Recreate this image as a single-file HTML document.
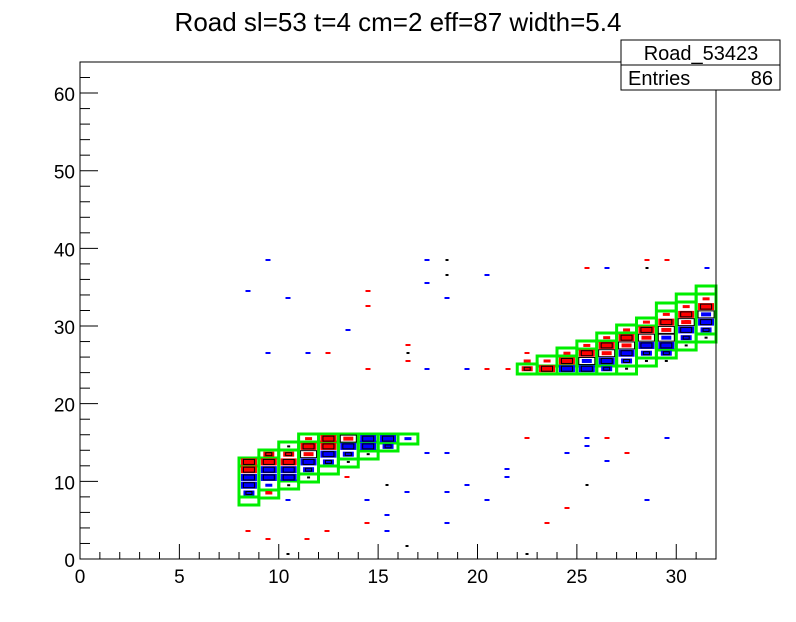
<!DOCTYPE html>
<html><head><meta charset="utf-8"><style>
html,body{margin:0;padding:0;background:#fff;}
svg{display:block;font-family:"Liberation Sans",sans-serif;}
</style></head><body>
<svg id="s" width="796" height="622" xmlns="http://www.w3.org/2000/svg">
<rect width="796" height="622" fill="#fff"/>
<text x="398" y="31" font-size="26" text-anchor="middle">Road sl=53 t=4 cm=2 eff=87 width=5.4</text>
<g id="data"></g>
<rect x="80" y="62" width="636" height="497" fill="none" stroke="#000" stroke-width="1"/>
<g id="ticks" stroke="#000" stroke-width="1"></g>
<g id="labels" font-size="19" text-anchor="middle"></g>
<rect x="621" y="40" width="159" height="50" fill="#fff" stroke="#000"/>
<line x1="621" y1="65" x2="780" y2="65" stroke="#000"/>
<text x="701" y="60" font-size="20" text-anchor="middle">Road_53423</text>
<text x="628" y="85" font-size="20">Entries</text>
<text x="773" y="85" font-size="20" text-anchor="end">86</text>
</svg>
<script>
const NS="http://www.w3.org/2000/svg";
function el(p,t,a){const e=document.createElementNS(NS,t);for(const k in a)e.setAttribute(k,a[k]);p.appendChild(e);return e;}
const X=v=>80+v*19.875, Y=v=>559-v*7.766;
const tk=document.getElementById('ticks'), lb=document.getElementById('labels'), d=document.getElementById('data');
for(let i=0;i<=32;i++){const L=i%5==0?15:7;el(tk,'line',{x1:X(i),x2:X(i),y1:559,y2:559-L});
 if(i%5==0){const t=el(lb,'text',{x:X(i),y:583});t.textContent=i;}}
for(let i=0;i<=64;i+=2){const L=i%10==0?18:10;el(tk,'line',{x1:80,x2:80+L,y1:Y(i),y2:Y(i)});
 if(i%10==0){const t=el(lb,'text',{x:75,y:Y(i)+8,'text-anchor':'end'});t.textContent=i;}}
const G=[[8,458,505],[9,450,498],[10,442,489],[11,434,482],[12,434,474],[13,434,467],[14,434,459],[15,434,451],[16,434,444],
[22,364,374],[23,356,374],[24,348,374],[25,341,374],[26,333,374],[27,325,374],[28,318,366],[29,303,358],[30,294,350],[31,286,342]];
const gg=el(d,'g',{fill:'none',stroke:'#00ee00','stroke-width':3});
G.forEach(g=>{const x=X(g[0]);el(gg,'rect',{x:x,y:g[1],width:19.875,height:g[2]-g[1]});
 const y2=g[2]-8; if(y2>g[1]+3) el(gg,'line',{x1:x,x2:x+19.875,y1:y2,y2:y2});
 const y3=g[1]+8; if(y3<g[2]-10) el(gg,'line',{x1:x,x2:x+19.875,y1:y3,y2:y3});});
const C=[
[8,12,'R'],[8,11,'R'],[8,10,'B'],[8,9,'B'],[8,8,'b'],
[9,13,'r'],[9,12,'R'],[9,11,'B'],[9,10,'B'],[9,9,'bs'],[9,8,'rs'],
[10,14,'k'],[10,13,'r'],[10,12,'R'],[10,11,'B'],[10,10,'B'],[10,9,'k'],
[11,15,'rs'],[11,14,'R'],[11,13,'WR'],[11,12,'B'],[11,11,'b'],[11,10,'k'],
[12,15,'R'],[12,14,'R'],[12,13,'B'],[12,12,'b'],
[13,15,'WR'],[13,14,'B'],[13,13,'b'],[13,12,'k'],
[14,15,'B'],[14,14,'B'],[14,13,'k'],
[15,15,'B'],[15,14,'b'],[16,15,'bs'],
[22,24,'r'],[22,25,'rs'],
[23,24,'R'],[23,25,'rs'],
[24,24,'B'],[24,25,'R'],[24,26,'rs'],
[25,24,'B'],[25,25,'WB'],[25,26,'R'],[25,27,'rs'],
[26,24,'b'],[26,25,'B'],[26,26,'WR'],[26,27,'R'],[26,28,'rs'],
[27,24,'k'],[27,25,'b'],[27,26,'B'],[27,27,'WR'],[27,28,'R'],[27,29,'rs'],
[28,25,'k'],[28,26,'b'],[28,27,'B'],[28,28,'WR'],[28,29,'R'],[28,30,'rs'],
[29,25,'k'],[29,26,'b'],[29,27,'B'],[29,28,'WB'],[29,29,'WR'],[29,30,'R'],[29,31,'rs'],
[30,27,'k'],[30,28,'b'],[30,29,'B'],[30,30,'WR'],[30,31,'R'],[30,32,'rs'],
[31,28,'k'],[31,29,'b'],[31,30,'B'],[31,31,'WB'],[31,32,'R'],[31,33,'rs']];
function box(cx,cy,w,h,fill,stroke){el(d,'rect',{x:cx-w/2,y:cy-h/2,width:w,height:h,fill:fill,stroke:stroke||'none','stroke-width':1});}
C.forEach(c=>{const cx=X(c[0]+0.5),cy=Y(c[1]+0.5),t=c[2];
 if(t=='R'||t=='B'){const f=t=='R'?'#ff0000':'#0000ff';box(cx,cy,16,7,f);box(cx,cy,11,5,'none','#000');}
 else if(t=='r'||t=='b'){const f=t=='r'?'#ff0000':'#0000ff';box(cx,cy,11,5,f);box(cx,cy,6,3,'none','#000');}
 else if(t=='rs'||t=='bs'){box(cx,cy,7,3,t=='rs'?'#ff0000':'#0000ff');}
 else if(t=='k'){box(cx,cy,3,2,'#000');}
 else {box(cx,cy,16,7,'#fff','#000');box(cx,cy,10,4,t=='WR'?'#ff0000':'#0000ff');}});
const S=[[268,260,'b'],[248,291,'b'],[288,298,'b'],[268,353,'b'],[308,353,'b'],[348,330,'b'],[368,291,'r'],[368,306,'r'],
[328,353,'r'],[368,369,'r'],[408,345,'r'],[408,353,'k'],[408,361,'r'],[427,260,'b'],[427,283,'b'],[447,275,'k'],[447,298,'b'],
[487,275,'b'],[467,369,'b'],[487,369,'r'],[427,369,'b'],[508,369,'r'],[527,438,'r'],[587,438,'b'],[607,438,'r'],[667,438,'b'],
[587,446,'b'],[607,461,'b'],[627,453,'r'],[587,485,'k'],[647,500,'b'],[507,469,'b'],[507,477,'b'],[467,485,'b'],[447,492,'b'],
[487,500,'b'],[447,523,'b'],[547,523,'r'],[567,508,'r'],[427,453,'b'],[447,453,'b'],[407,492,'b'],[387,485,'k'],[387,515,'b'],
[387,531,'b'],[367,523,'r'],[367,500,'b'],[347,477,'r'],[327,531,'r'],[307,539,'r'],[268,539,'r'],[248,531,'r'],[268,492,'r'],
[288,500,'b'],[288,554,'k'],[407,546,'k'],[527,554,'k'],[567,453,'b'],[607,268,'b'],[587,268,'r'],[647,260,'r'],[667,260,'r'],
[707,268,'b'],[647,268,'k'],[527,353,'r'],[447,260,'k'],[687,321,'r']];
S.forEach(s=>box(s[0],s[1],s[2]=='k'?3:5,2,s[2]=='r'?'#ff0000':s[2]=='b'?'#0000ff':'#000'));
</script>
</body></html>
